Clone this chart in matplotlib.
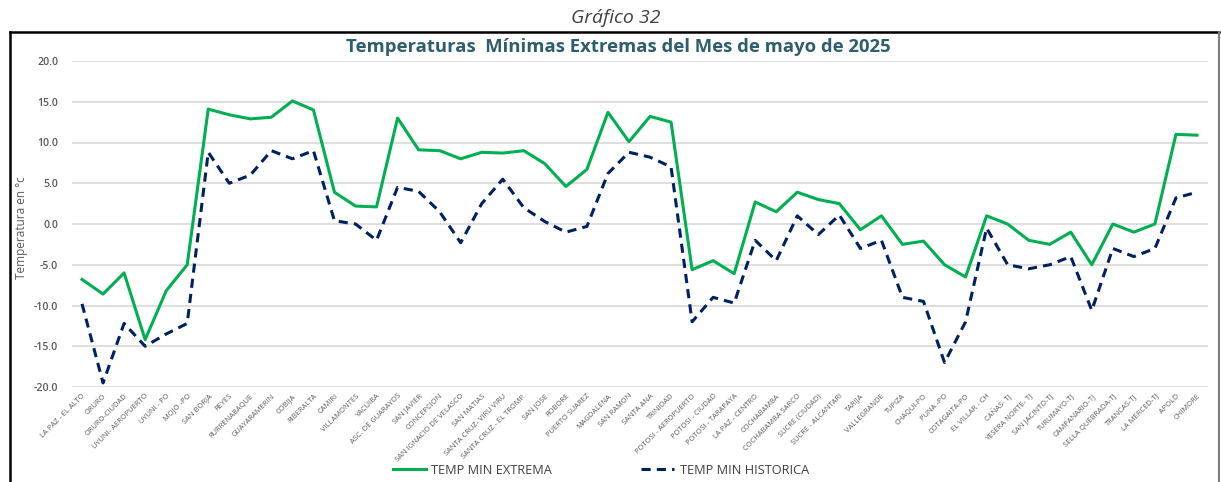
import matplotlib
matplotlib.use("Agg")
import matplotlib.pyplot as plt
from matplotlib.lines import Line2D

stations = [
    "LA PAZ - EL ALTO", "ORURO", "ORURO-CIUDAD", "UYUNI- AEROPUERTO", "UYUNI - PO",
    "MOJO -PO", "SAN BORJA", "REYES", "RURRENABAQUE", "GUAYARAMERIN", "COBIJA",
    "RIBERALTA", "CAMIRI", "VILLAMONTES", "YACUIBA", "ASC. DE GUARAYOS", "SAN JAVIER",
    "CONCEPCION", "SAN IGNACIO DE VELASCO", "SAN MATIAS", "SANTA CRUZ- VIRU VIRU",
    "SANTA CRUZ - EL TROMP.", "SAN JOSE", "ROBORE", "PUERTO SUAREZ", "MAGDALENA",
    "SAN RAMON", "SANTA ANA", "TRINIDAD", "POTOSI - AEROPUERTO", "POTOSI - CIUDAD",
    "POTOSI - TARAPAYA", "LA PAZ - CENTRO", "COCHABAMBA", "COCHABAMBA SARCO",
    "SUCRE (CIUDAD)", "SUCRE - ALCANTARI", "TARIJA", "VALLEGRANDE", "TUPIZA",
    "CHAQUI-PO", "PUNA -PO", "COTAGAITA-PO", "EL VILLAR - CH", "CAÑAS- TJ",
    "YESERA NORTE- TJ", "SAN JACINTO-TJ", "TURUMAYO-TJ", "CAMPANARIO-TJ",
    "SELLA QUEBRADA-TJ", "TRANCAS-TJ", "LA MERCED-TJ", "APOLO", "CHIMORE",
]

temp_min_extrema = [
    -6.8, -8.6, -6.0, -14.2, -8.2, -5.0, 14.1, 13.4, 12.9, 13.1, 15.1, 14.0,
    3.9, 2.2, 2.1, 13.0, 9.1, 9.0, 8.0, 8.8, 8.7, 9.0, 7.4, 4.6, 6.7, 13.7,
    10.1, 13.2, 12.5, -5.6, -4.5, -6.1, 2.7, 1.5, 3.9, 3.0, 2.5, -0.7, 1.0,
    -2.5, -2.1, -5.0, -6.5, 1.0, 0.0, -2.0, -2.5, -1.0, -5.0, 0.0, -1.0, 0.0,
    11.0, 10.9,
]

temp_min_historica = [
    -9.8, -19.5, -12.2, -15.0, -13.5, -12.2, 8.8, 5.0, 6.0, 9.0, 8.0, 9.0,
    0.4, 0.0, -2.0, 4.5, 4.0, 1.5, -2.3, 2.5, 5.5, 2.0, 0.3, -1.0, -0.3, 6.2,
    8.8, 8.2, 7.0, -12.0, -9.0, -9.7, -2.0, -4.5, 1.0, -1.3, 1.1, -3.0, -2.0,
    -9.0, -9.5, -17.0, -12.0, -0.5, -5.0, -5.5, -5.0, -4.0, -10.6, -3.0, -4.0,
    -3.0, 3.2, 3.9,
]

y_ticks = [-20, -15, -10, -5, 0, 5, 10, 15, 20]

plt.rcParams['font.family'] = ['Open Sans', 'DejaVu Sans']

fig = plt.figure(figsize=(12.21, 4.82), dpi=100)
fig.patch.set_facecolor('white')

# chart frame: dark top/left, grey right
fig.add_artist(Line2D([10/1221, 10/1221], [0, 1 - 32/482], transform=fig.transFigure,
                      color='black', linewidth=1.8))
fig.add_artist(Line2D([10/1221, 1219/1221], [1 - 32/482, 1 - 32/482],
                      transform=fig.transFigure, color='black', linewidth=1.8))
fig.add_artist(Line2D([1219/1221, 1219/1221], [0, 1 - 32/482], transform=fig.transFigure,
                      color='#7F7F7F', linewidth=1.5))

fig.text(0.504, 1 - 18/482, "Gráfico 32", ha='center', va='center',
         fontsize=14, style='italic', color='#404040')
fig.text(0.506, 1 - 47/482, "Temperaturas  Mínimas Extremas del Mes de mayo de 2025",
         ha='center', va='center', fontsize=13.3, fontweight='bold', color='#2E5E6B')

ax = fig.add_axes([71.5/1221, 1 - 387/482, (1207.5 - 71.5)/1221, (387 - 61)/482])
x = list(range(len(stations)))
ax.plot(x, temp_min_extrema, color='#00B050', linewidth=2.2, label='TEMP MIN EXTREMA')
ax.plot(x, temp_min_historica, color='#002060', linewidth=2.2, linestyle=(0, (3, 2)),
        label='TEMP MIN HISTORICA')

ax.set_xlim(-0.5, len(stations) - 0.5)
ax.set_ylim(-20, 20)
ax.set_yticks(y_ticks)
ax.set_yticklabels([f"{v:.1f}" for v in y_ticks], fontsize=7.6, color='#595959',
                   fontweight='semibold')
ax.set_xticks(x)
ax.set_xticklabels(stations, rotation=45, ha='right', rotation_mode='anchor',
                   fontsize=5.4, color='#595959')
ax.tick_params(axis='both', length=0)
ax.tick_params(axis='y', pad=9.5)
ax.tick_params(axis='x', pad=4)
ax.grid(axis='y', color='#D9D9D9', linewidth=1.2)
ax.set_axisbelow(True)
for s in ax.spines.values():
    s.set_visible(False)
ax.set_ylabel("Temperatura en °c", fontsize=8.5, color='#595959')
ax.yaxis.label.set_va('center')
ax.yaxis.set_label_coords((22 - 71.5)/1136, 0.49)

handles = [Line2D([], [], color='#00B050', linewidth=2.2),
           Line2D([], [], color='#002060', linewidth=2.2, linestyle=(0, (3, 2)))]
fig.legend(handles, ['TEMP MIN EXTREMA', 'TEMP MIN HISTORICA'],
           loc='center', bbox_to_anchor=(0.492, 1 - 470/482), ncol=2, frameon=False,
           fontsize=9.2, labelcolor='#404040', handlelength=2.6, handletextpad=0.4,
           columnspacing=7.0)

fig.savefig("out.png", dpi=100, facecolor='white')
